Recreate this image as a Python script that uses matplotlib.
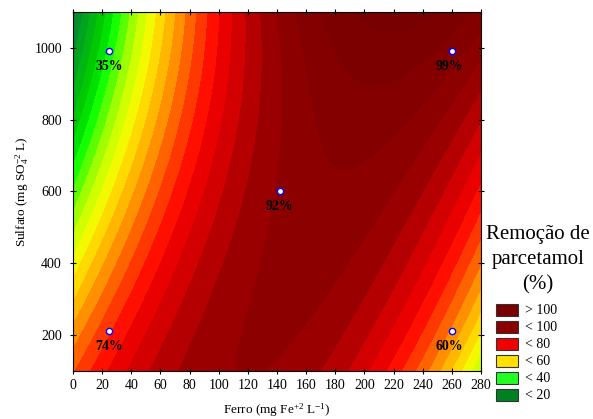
import numpy as np
import matplotlib
matplotlib.use('Agg')
import matplotlib.pyplot as plt
from matplotlib.colors import LinearSegmentedColormap
from matplotlib.patches import Rectangle

plt.rcParams['font.family'] = 'Liberation Serif'
plt.rcParams['mathtext.fontset'] = 'custom'
plt.rcParams['mathtext.rm'] = 'Liberation Serif'
plt.rcParams['mathtext.it'] = 'Liberation Serif:italic'
plt.rcParams['mathtext.bf'] = 'Liberation Serif:bold'

# pontos experimentais
ferro = [25, 260, 142, 25, 260]
sulfato = [990, 990, 600, 210, 210]
remocao = ['35%', '99%', '92%', '74%', '60%']

sup_fe = [2, 6, 12, 18, 24, 31, 38, 45, 52, 58, 65, 72, 79, 86, 94, 103, 113,
          142, 170, 210, 250, 280,
          2, 7, 14, 21, 29, 37, 45, 53, 60, 67, 75, 84, 92, 101, 110, 119, 130,
          200,
          280, 280, 280, 280, 280, 280, 280, 280, 280, 280, 280,
          3, 14, 31, 52, 73, 115, 147, 160, 179, 195, 213, 223, 233, 240, 246,
          252, 259, 265, 275,
          0, 0, 0, 0, 0, 0, 0,
          142, 172, 199, 142, 200, 260, 230, 25, 25, 260]
sup_so4 = [1100]*22 + [800]*18 + \
          [1000, 800, 700, 600, 548, 484, 429, 373, 317, 262, 100] + \
          [100]*19 + \
          [1100, 800, 600, 400, 270, 200, 100] + \
          [600, 457, 576, 400, 900, 990, 700, 990, 210, 210]
sup_val = [10, 15, 21, 28, 33, 37, 42, 47, 51, 56, 60, 65, 70, 74, 77, 81, 84,
           92, 101, 105, 103, 100,
           28, 32, 36, 40, 44, 48, 53, 57, 61, 67, 71, 75, 78, 81, 84, 87, 90,
           100,
           97, 89, 87, 84, 77, 71, 67, 62, 58, 52, 46,
           69, 74, 78, 82, 87, 93, 94, 91, 89, 86, 83, 79, 75, 71, 67, 62, 58,
           52, 47,
           9, 27, 41, 54, 63, 68, 68,
           96, 94, 94, 95, 102, 99, 90, 34, 75, 58]

legenda_txt = ['> 100', '< 100', '< 80', '< 60', '< 40', '< 20']
legenda_cor = ['#780000', '#8a0000', '#f20000', '#ffe000', '#22ff22', '#008020']

# escala de cores (valor, cor)
cor_valor = [0, 10, 15, 21, 28, 32, 36, 40, 44, 48, 52, 56, 60, 64, 68,
             72, 76, 80, 84, 88, 92, 96, 100, 104, 112]
cor_rgb = [(0, 90, 60), (0, 110, 60), (0, 140, 40), (0, 170, 30), (0, 200, 0),
           (0, 225, 0), (20, 255, 0), (90, 255, 0), (160, 255, 0),
           (210, 255, 0), (245, 250, 0), (255, 220, 0), (255, 185, 0),
           (255, 145, 0), (255, 100, 0), (255, 55, 0), (255, 15, 0),
           (235, 0, 0), (212, 0, 0), (182, 0, 0), (155, 0, 0), (140, 0, 0),
           (132, 0, 0), (125, 0, 0), (118, 0, 0)]


def termos(fe, so4):
    u = (np.asarray(fe, float) - 140) / 140
    v = (np.asarray(so4, float) - 600) / 500
    return np.stack([np.ones_like(u), u, v, u**2, u*v, v**2,
                     u**3, u**2*v, u*v**2, v**3], axis=-1)


# ajuste cubico da superficie de resposta
coef, *_ = np.linalg.lstsq(termos(sup_fe, sup_so4), np.array(sup_val, float),
                           rcond=None)

xg = np.linspace(0, 280, 300)
yg = np.linspace(100, 1100, 300)
X, Y = np.meshgrid(xg, yg)
Z = termos(X, Y) @ coef

vmin, vmax = cor_valor[0], cor_valor[-1]
cmap = LinearSegmentedColormap.from_list(
    'statistica',
    [((val - vmin)/(vmax - vmin), tuple(c/255 for c in rgb))
     for val, rgb in zip(cor_valor, cor_rgb)])

fig = plt.figure(figsize=(5.93, 4.19), dpi=100)
ax = fig.add_axes([0.1231, 0.1146, 0.688, 0.8568])

niveis = np.arange(-2, 122, 4)
ax.contourf(X, Y, Z, levels=niveis, cmap=cmap, vmin=vmin, vmax=vmax,
            extend='both')

ax.plot(ferro, sulfato, 'o', markersize=4.5, markerfacecolor='white',
        markeredgecolor='blue', markeredgewidth=1.0, zorder=5)
for xi, yi, t in zip(ferro, sulfato, remocao):
    dx = -2 if xi > 200 else 0
    ax.annotate(t, (xi, yi), xytext=(dx, -10.5), textcoords='offset points',
                ha='center', va='center', fontsize=10, fontweight='bold',
                color='black', zorder=6)

ax.set_xlim(0, 280)
ax.set_ylim(100, 1100)
ax.set_xticks(np.arange(0, 281, 20))
ax.set_yticks([200, 400, 600, 800, 1000])
ax.tick_params(axis='both', direction='inout', length=4, labelsize=10,
               top=True, right=True, width=0.8)
ax.tick_params(axis='y', pad=6)
for s in ax.spines.values():
    s.set_linewidth(0.8)

ax.set_xlabel('Ferro (mg Fe$^{+2}$ L$^{-1}$)', fontsize=9.5, labelpad=7)
ax.set_ylabel('Sulfato (mg SO$_{4}^{-2}$ L)', fontsize=9.5, labelpad=2)

# legenda
fig.text(0.907, 1 - 260/419, 'Remoção de\nparcetamol\n(%)', ha='center',
         va='center', fontsize=15, linespacing=1.45)
for i, (t, c) in enumerate(zip(legenda_txt, legenda_cor)):
    yc = 1 - (310 + 17*i) / 419
    fig.patches.append(Rectangle((496/593, yc - 6/419), 22/593, 12/419,
                                 transform=fig.transFigure, facecolor=c,
                                 edgecolor='#333333', linewidth=0.8))
    fig.text(525/593, yc, t, ha='left', va='center', fontsize=10)

fig.savefig('out.png', dpi=100)
